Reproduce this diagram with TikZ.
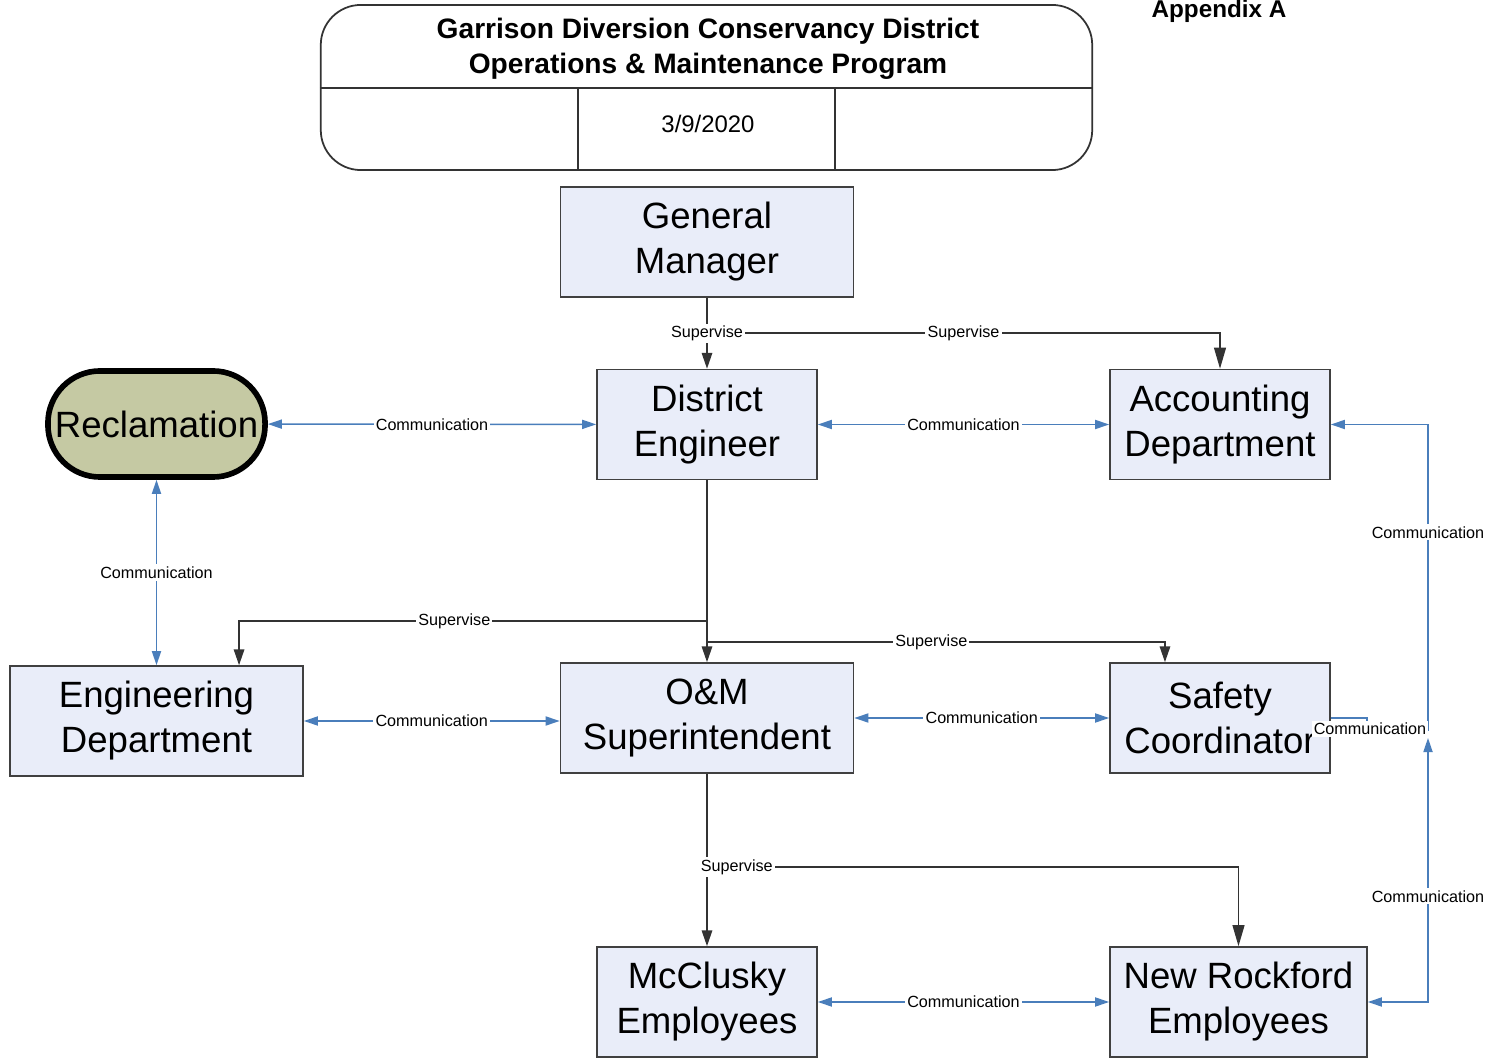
\documentclass[tikz,border=0pt]{standalone}
\usepackage{fontspec}
\setmainfont{Liberation Sans}
\usetikzlibrary{arrows.meta}
\definecolor{boxfill}{HTML}{E9EDF9}
\definecolor{reclfill}{HTML}{C5C9A3}
\definecolor{commblue}{HTML}{4A7EBB}
\newcommand{\boxfont}{\fontsize{10.4}{12.8}\selectfont}
\newcommand{\tagfont}{\fontsize{4.6}{5.5}\selectfont}
\tikzset{
	unit/.style={draw=black!75, fill=boxfill, line width=0.45pt, align=center,
		font=\boxfont, minimum height=1.1cm, inner sep=0pt},
	superv/.style={draw=black!80, line width=0.4pt, -{Triangle[length=4.5pt,width=3pt]}},
	bigsuperv/.style={draw=black!80, line width=0.4pt, -{Triangle[length=6pt,width=3.4pt]}},
	comm/.style={draw=commblue, line width=0.4pt,
		{Triangle[length=4pt,width=2.6pt]}-{Triangle[length=4pt,width=2.6pt]}},
	commin/.style={draw=commblue, line width=0.4pt, {Triangle[length=4pt,width=2.6pt]}-},
	commout/.style={draw=commblue, line width=0.4pt, -{Triangle[length=4pt,width=2.6pt]}},
	tag/.style={fill=white, inner sep=0.6pt, font=\tagfont}
}

\begin{document}
\begin{tikzpicture}[x=0.01cm,y=-0.01cm]
	\useasboundingbox (0,0) rectangle (1493,1058);

	% header block
	\node[draw=black!80, line width=0.5pt, rounded corners=0.4cm,
		minimum width=7.71cm, minimum height=1.65cm, inner sep=0pt] (header) at (706.5,87.5) {};
	\draw[black!80, line width=0.5pt] (header.west |- 0,88) -- (header.east |- 0,88);
	\draw[black!80, line width=0.5pt] (578,88) -- (578,170);
	\draw[black!80, line width=0.5pt] (835,88) -- (835,170);
	\node[align=center, font=\bfseries\fontsize{8}{9.96}\selectfont] (title) at (708,49)
		{Garrison Diversion Conservancy District\\Operations \& Maintenance Program};
	\node[font=\fontsize{6.8}{8}\selectfont] (date) at (708,124) {3/9/2020};
	\node[anchor=base, font=\bfseries\fontsize{6.9}{8}\selectfont] (appx) at (1219,18) {Appendix A};

	% units
	\node[unit, minimum width=2.93cm] (gm) at (707,242) {General\\Manager};
	\node[unit, minimum width=2.2cm] (de) at (707,424.5) {District\\Engineer};
	\node[unit, minimum width=2.2cm] (acct) at (1220,424.5) {Accounting\\Department};
	\node[draw=black, line width=1.6pt, fill=reclfill, rounded corners=0.52cm,
		minimum width=2.17cm, minimum height=1.06cm, inner sep=0pt, font=\boxfont] (recl) at (156.5,424) {Reclamation};
	\node[unit, minimum width=2.93cm] (eng) at (156.5,721) {Engineering\\Department};
	\node[unit, minimum width=2.93cm] (om) at (707,718) {O\&M\\Superintendent};
	\node[unit, minimum width=2.2cm] (safety) at (1220,718) {Safety\\Coordinator};
	\node[unit, minimum width=2.2cm] (mcc) at (707,1002) {McClusky\\Employees};
	\node[unit, minimum width=2.57cm] (nr) at (1238.5,1002) {New Rockford\\Employees};

	% supervise lines
	\coordinate (gmfork) at (707,333);
	\coordinate (engfork) at (707,621);
	\coordinate (safefork) at (707,642);
	\coordinate (omfork) at (707,867);
	\draw[bigsuperv] (gmfork) -| node[tag, pos=0.25] {Supervise} (acct.north);
	\draw[superv] (gm) -- node[tag] {Supervise} (de);
	\draw[superv] (de) -- (om);
	\draw[superv] (engfork) -| node[tag, pos=0.27] {Supervise} ([xshift=0.825cm]eng.north);
	\draw[superv] (safefork) -| node[tag, pos=0.245] {Supervise} ([xshift=-0.55cm]safety.north);
	\draw[superv] (om) -- (mcc);
	\draw[bigsuperv] (omfork) -| node[tag, pos=0, anchor=west, xshift=-0.09cm] {Supervise} (nr.north);

	% communication lines
	\draw[comm] (recl) -- node[tag] {Communication} (de);
	\draw[comm] (de) -- node[tag] {Communication} (acct);
	\draw[comm] (recl) -- node[tag] {Communication} (eng);
	\draw[comm] (eng) -- node[tag] {Communication} (eng -| om.west);
	\draw[comm] (om) -- node[tag] {Communication} (safety);
	\draw[comm] (mcc) -- node[tag] {Communication} (nr);

	% right hand rail
	\coordinate (rail) at (1428,731);
	\coordinate (railup) at (1428,738);
	\draw[commin] (acct.east) -| node[tag, pos=0.676] {Communication} (rail);
	\draw[comm] (nr.east) -| node[tag, pos=0.7] {Communication} (railup);
	\draw[commout] (safety.east) -- ++(36,0) |- (rail);
	\node[tag] (safetag) at (1370,729) {Communication};
\end{tikzpicture}
\end{document}
